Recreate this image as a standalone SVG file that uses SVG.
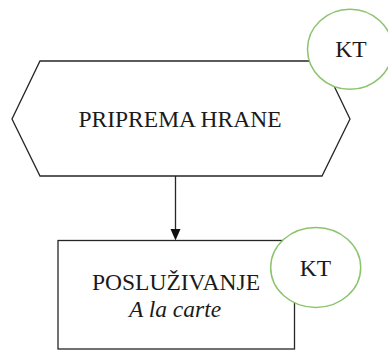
<svg xmlns="http://www.w3.org/2000/svg" width="388" height="352" viewBox="0 0 388 352">
<style>
.shape{fill:#fff;stroke:#262626;stroke-width:1.3}
.kt{fill:#fff;stroke:#8cc46e;stroke-width:1.5}
.t{font-family:"Liberation Serif","Times New Roman",serif;font-size:23.5px;fill:#1a1a1a;text-anchor:middle}
.i{font-style:italic}
.edge{stroke:#262626;stroke-width:1.3;fill:none}
</style>
<defs>
<marker id="arr" viewBox="0 0 10 11" refX="5" refY="11" markerWidth="10" markerHeight="11" markerUnits="userSpaceOnUse" orient="auto-start-reverse">
<path d="M0,0 L10,0 L5,11 Z" fill="#111"/>
</marker>
</defs>
<rect width="388" height="352" fill="#fff"/>
<g id="connectors">
<line class="edge" x1="175.5" y1="176" x2="175.5" y2="229.5"/>
<path d="M170.5,229 L180.5,229 L175.5,240.5 Z" fill="#111"/>
</g>
<g id="node-priprema">
<polygon class="shape" points="40,61 322,61 350,119 322,176 40,176 12,119"/>
<text class="t" x="180" y="127">PRIPREMA HRANE</text>
</g>
<g id="node-kt1">
<ellipse class="kt" cx="350" cy="49.3" rx="42.5" ry="40"/>
<text class="t" x="351" y="57.3">KT</text>
</g>
<g id="node-posluzivanje">
<rect class="shape" x="58" y="240.5" width="236.5" height="108.5"/>
<text class="t" x="176" y="290">POSLUŽIVANJE</text>
<text class="t i" x="175" y="316.5">A la carte</text>
</g>
<g id="node-kt2">
<ellipse class="kt" cx="315.7" cy="267.5" rx="45" ry="40"/>
<text class="t" x="315.5" y="276">KT</text>
</g>
</svg>
